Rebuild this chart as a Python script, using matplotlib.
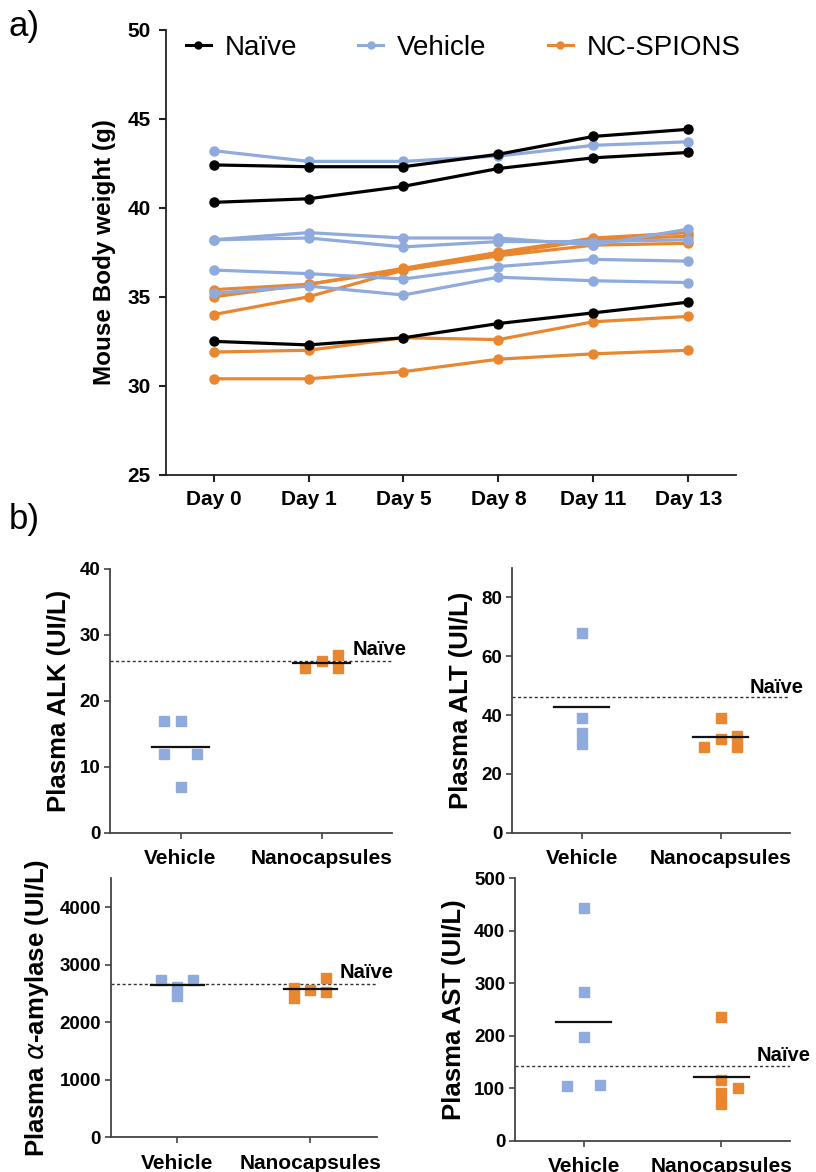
import numpy as np
import matplotlib
matplotlib.use("Agg")
import matplotlib.pyplot as plt

plt.rcParams['font.family'] = ['Liberation Sans', 'DejaVu Sans']

# -------- body weight (g) per mouse --------
days = ['Day 0', 'Day 1', 'Day 5', 'Day 8', 'Day 11', 'Day 13']

naive_w = [
    [42.4, 42.3, 42.3, 43.0, 44.0, 44.4],
    [40.3, 40.5, 41.2, 42.2, 42.8, 43.1],
    [32.5, 32.3, 32.7, 33.5, 34.1, 34.7],
]
vehicle_w = [
    [43.2, 42.6, 42.6, 42.9, 43.5, 43.7],
    [38.2, 38.6, 38.3, 38.3, 37.9, 38.8],
    [38.2, 38.3, 37.8, 38.1, 38.1, 38.2],
    [36.5, 36.3, 36.0, 36.7, 37.1, 37.0],
    [35.2, 35.6, 35.1, 36.1, 35.9, 35.8],
]
spions_w = [
    [35.4, 35.7, 36.6, 37.5, 38.3, 38.6],
    [35.0, 35.7, 36.5, 37.4, 38.2, 38.4],
    [34.0, 35.0, 36.5, 37.3, 37.9, 38.0],
    [31.9, 32.0, 32.7, 32.6, 33.6, 33.9],
    [30.4, 30.4, 30.8, 31.5, 31.8, 32.0],
]

# -------- plasma markers (UI/L) --------
groups = ['Vehicle', 'Nanocapsules']

alk_vehicle = [17, 17, 12, 12, 7]
alk_nano = [25, 26, 27, 25]
alk_naive = 26

alt_vehicle = [68, 39, 34, 30]
alt_nano = [29, 39, 32, 33, 29]
alt_naive = 46.2

amy_vehicle = [2740, 2620, 2460, 2740]
amy_nano = [2600, 2420, 2560, 2760, 2520]
amy_naive = 2670

ast_vehicle = [443, 283, 197, 105, 107]
ast_nano = [235, 116, 100, 90, 70]
ast_naive = 143

# horizontal spread of the squares inside each column
alk_off = ([-0.12, 0, -0.12, 0.12, 0], [-0.12, 0, 0.12, 0.12])
alt_off = ([0, 0, 0, 0], [-0.12, 0, 0, 0.12, 0.12])
amy_off = ([-0.12, 0, 0, 0.12], [-0.12, -0.12, 0, 0.12, 0.12])
ast_off = ([0, 0, 0, -0.12, 0.12], [0, 0, 0.12, 0, 0])

BLACK = '#000000'
BLUE = '#8FAADC'
ORANGE = '#E8872F'
SPINE = '#222222'

W, H = 816, 1172
fig = plt.figure(figsize=(W / 100, H / 100), dpi=100)


def box(l, t, r, b):
    return [l / W, 1 - b / H, (r - l) / W, (b - t) / H]


# -------- panel a --------
ax = fig.add_axes(box(166, 29.5, 736, 475))
x = np.arange(len(days))
for rows, col, z in [(spions_w, ORANGE, 2), (vehicle_w, BLUE, 3), (naive_w, BLACK, 4)]:
    for r in rows:
        ax.plot(x, r, color=col, lw=2.3, marker='o', ms=6.5, zorder=z)

ax.set_xlim(-0.5, 5.5)
ax.set_ylim(25, 50)
ax.set_yticks(range(25, 51, 5))
ax.set_xticks(x)
ax.set_xticklabels(days)
ax.set_ylabel('Mouse Body weight (g)', fontsize=17.5, fontweight='bold', labelpad=8)
for s in ['top', 'right']:
    ax.spines[s].set_visible(False)
for s in ['left', 'bottom']:
    ax.spines[s].set_linewidth(1.3)
    ax.spines[s].set_color(SPINE)
ax.tick_params(length=5, width=1.5, color=SPINE, labelsize=15, pad=6)
for lab in ax.get_xticklabels() + ax.get_yticklabels():
    lab.set_fontweight('bold')

handles = [plt.Line2D([], [], color=c, lw=2.2, marker='o', ms=5) for c in (BLACK, BLUE, ORANGE)]
ax.legend(handles, ['Naïve', 'Vehicle', 'NC-SPIONS'], ncol=3, frameon=False,
          fontsize=20, loc='center left', bbox_to_anchor=(0.015, 0.958),
          handlelength=0.9, handletextpad=0.5, columnspacing=2.2, borderaxespad=0)

fig.text(9 / W, 1 - 10 / H, 'a)', fontsize=25, va='top', ha='left')
fig.text(9 / W, 1 - 503 / H, 'b)', fontsize=25, va='top', ha='left')


# -------- panel b --------
def scatter_panel(rect, vehicle, nano, offs, naive, ylim, yticks, ylabel, naive_xy):
    a = fig.add_axes(rect)
    for i, (vals, col) in enumerate([(vehicle, BLUE), (nano, ORANGE)]):
        a.plot(np.array(offs[i]) + i, vals, ls='none', marker='s', ms=7.5,
               color=col, mec=col, zorder=3)
        m = np.mean(vals)
        a.plot([i - 0.2, i + 0.2], [m, m], color='#111111', lw=1.6, zorder=4)
    a.axhline(naive, color='#333333', lw=1.0, ls=(0, (2.2, 1.8)), zorder=2)
    a.text(naive_xy[0], naive_xy[1], 'Naïve', fontsize=14.5, fontweight='bold',
           ha='left', va='baseline', clip_on=False)
    a.set_xlim(-0.5, 1.5)
    a.set_ylim(*ylim)
    a.set_yticks(yticks)
    a.set_xticks([0, 1])
    a.set_xticklabels(groups)
    a.set_ylabel(ylabel, fontsize=18.5, fontweight='bold', labelpad=6)
    for s in ['top', 'right']:
        a.spines[s].set_visible(False)
    for s in ['left', 'bottom']:
        a.spines[s].set_linewidth(1.3)
        a.spines[s].set_color('#444444')
    a.tick_params(axis='y', length=4, width=1.2, color='#444444', labelsize=13.5, pad=3)
    a.tick_params(axis='x', length=4, width=1.2, color='#444444', labelsize=15, pad=8)
    for lab in a.get_xticklabels() + a.get_yticklabels():
        lab.set_fontweight('bold')
    return a


scatter_panel(box(110, 569, 392, 832.7), alk_vehicle, alk_nano, alk_off, alk_naive,
              (0, 40), range(0, 41, 10), 'Plasma ALK (UI/L)', (1.22, 27.0))
scatter_panel(box(512.3, 568, 790, 832.7), alt_vehicle, alt_nano, alt_off, alt_naive,
              (0, 90), range(0, 81, 20), 'Plasma ALT (UI/L)', (1.21, 47.5))
scatter_panel(box(110.7, 878.3, 376.7, 1137.3), amy_vehicle, amy_nano, amy_off, amy_naive,
              (0, 4500), range(0, 4001, 1000), r'Plasma $\alpha$-amylase (UI/L)', (1.22, 2760))
scatter_panel(box(515, 878.3, 790, 1140.7), ast_vehicle, ast_nano, ast_off, ast_naive,
              (0, 500), range(0, 501, 100), 'Plasma AST (UI/L)', (1.26, 151))

fig.savefig('out.png', dpi=100)
